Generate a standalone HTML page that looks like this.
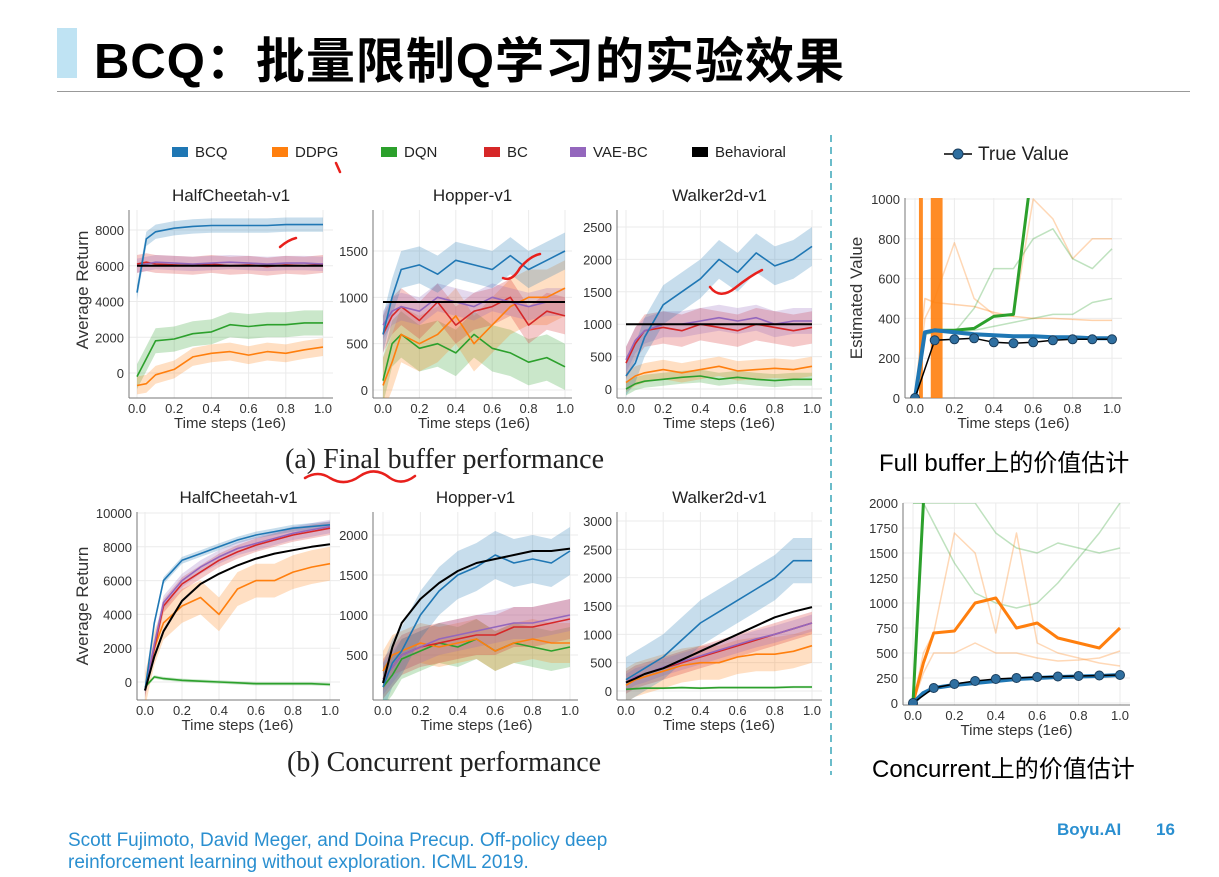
<!DOCTYPE html>
<html><head><meta charset="utf-8">
<style>
body{margin:0;background:#fff;}
#wrap{position:relative;width:1219px;height:877px;overflow:hidden;background:#fff;font-family:"Liberation Sans","Noto Sans CJK SC",sans-serif;}
.abs{position:absolute;white-space:nowrap;}
</style></head>
<body>
<div id="wrap">
<div class="abs" style="left:57px;top:28px;width:20px;height:50px;background:#bfe3f3"></div>
<div class="abs" style="left:94px;top:22px;font-size:49px;font-weight:bold;color:#000;letter-spacing:1px;font-family:'Liberation Sans','Noto Sans CJK SC',sans-serif">BCQ：批量限制Q学习的实验效果</div>
<div class="abs" style="left:57px;top:91px;width:1133px;height:1px;background:#999"></div>
<div class="abs" style="left:68px;top:830px;font-size:19px;line-height:22px;color:#2a8fd0">Scott Fujimoto, David Meger, and Doina Precup. Off-policy deep<br>reinforcement learning without exploration. ICML 2019.</div>
<div class="abs" style="left:1057px;top:820px;font-size:17px;font-weight:bold;color:#2a8fd0">Boyu.AI</div>
<div class="abs" style="left:1156px;top:820px;font-size:17px;font-weight:bold;color:#2a8fd0">16</div>
<div class="abs" style="left:285px;top:444px;font-size:28px;font-family:'Liberation Serif',serif;color:#222">(a) Final buffer performance</div>
<div class="abs" style="left:287px;top:747px;font-size:28px;font-family:'Liberation Serif',serif;color:#222">(b) Concurrent performance</div>
<div class="abs" style="left:879px;top:443px;font-size:24px;color:#000">Full buffer上的价值估计</div>
<div class="abs" style="left:872px;top:749px;font-size:24px;color:#000">Concurrent上的价值估计</div>
<svg id="chart" width="1219" height="877" style="position:absolute;left:0;top:0" xmlns="http://www.w3.org/2000/svg"></svg>
</div>
<script>
const xs=[0,0.05,0.1,0.2,0.3,0.4,0.5,0.6,0.7,0.8,0.9,1.0];
const seriesNames=['BCQ','DDPG','DQN','BC','VAE-BC','Behavioral'];
const seriesColors=['#1f77b4','#ff7f0e','#2ca02c','#d62728','#9467bd','#000000'];
// Final buffer
const hc1={BCQ:[4500,7500,7900,8100,8200,8250,8250,8250,8250,8300,8300,8300],DDPG:[-700,-600,-100,200,900,1100,1200,1000,1200,1100,1300,1450],DQN:[-200,800,1800,1900,2200,2300,2700,2600,2700,2700,2800,2800],BC:[6100,6200,6100,6050,6000,6100,6000,6050,5950,6050,6000,6100],'VAE-BC':[6000,6100,6200,6150,6100,6150,6200,6150,6100,6150,6150,6100],Behavioral:[6000,6000,6000,6000,6000,6000,6000,6000,6000,6000,6000,6000]};
const hc1Band=[400,500,700,500,400,0];
const hop1={BCQ:[600,1000,1300,1350,1250,1400,1350,1300,1450,1300,1400,1500],DDPG:[50,300,600,500,600,800,500,700,900,1000,1000,1100],DQN:[100,500,600,450,500,400,600,450,400,300,350,250],BC:[600,800,900,750,950,700,850,900,1000,700,850,800],'VAE-BC':[700,850,900,850,1000,950,900,1000,950,900,950,950],Behavioral:[950,950,950,950,950,950,950,950,950,950,950,950]};
const hop1Band=[200,300,250,200,150,0];
const wk1={BCQ:[200,400,800,1300,1500,1700,2000,1800,2100,1900,2000,2200],DDPG:[100,200,250,300,250,300,350,280,300,320,300,350],DQN:[0,80,120,150,180,200,150,180,150,130,150,150],BC:[400,700,900,950,900,1000,950,900,1000,950,900,950],'VAE-BC':[450,750,900,1000,1000,1050,1100,1050,1100,1000,1050,1050],Behavioral:[1000,1000,1000,1000,1000,1000,1000,1000,1000,1000,1000,1000]};
const wk1Band=[300,150,100,250,200,0];
// Concurrent
const hc2={BCQ:[-500,3500,6000,7200,7600,8000,8400,8700,8900,9100,9200,9300],DDPG:[-500,2000,3500,4500,5000,4000,5500,6000,6000,6500,6800,7000],DQN:[-300,300,200,100,50,0,-50,-100,-100,-100,-100,-150],BC:[-500,2000,4500,5800,6500,7200,7700,8100,8400,8700,8900,9100],'VAE-BC':[-500,2200,4700,6000,6800,7400,7900,8200,8500,8800,9000,9200],Behavioral:[-500,1500,3000,4800,5800,6400,6900,7300,7600,7800,8000,8150]};
const hc2Band=[200,1000,100,400,400,0];
const hop2={BCQ:[100,400,550,1000,1300,1500,1600,1750,1650,1700,1650,1800],DDPG:[300,500,550,650,600,650,700,550,650,700,650,650],DQN:[100,250,450,550,650,600,700,550,650,600,550,600],BC:[200,350,500,600,650,700,750,750,850,850,900,950],'VAE-BC':[200,350,500,600,700,750,800,850,900,900,950,1000],Behavioral:[150,600,900,1200,1400,1550,1650,1700,1750,1800,1800,1830]};
const hop2Band=[300,250,250,250,200,0];
const wk2={BCQ:[200,300,400,600,900,1200,1400,1600,1800,2000,2300,2300],DDPG:[100,200,250,350,450,500,500,600,650,650,700,800],DQN:[30,40,50,50,60,50,60,60,60,60,70,70],BC:[150,250,300,400,500,600,700,800,900,1000,1100,1200],'VAE-BC':[150,250,300,420,520,620,720,820,920,1000,1100,1200],Behavioral:[150,220,300,400,550,700,850,1000,1150,1300,1400,1480]};
const wk2Band=[400,300,20,200,150,0];
// Value estimates
const tvX=[0,0.1,0.2,0.3,0.4,0.5,0.6,0.7,0.8,0.9,1.0];
const tv1=[0,290,295,300,280,275,280,290,295,295,295];
const est1BCQ=[0,330,340,330,320,315,310,310,305,305,300,300];
const est1DQN=[0,330,340,340,350,410,420,1200,2000,2000,2000,2000];
const est1FaintOrange=[0,500,480,470,460,430,410,400,400,395,390,390];
const est1FaintOrange2=[0,400,500,780,500,420,410,1000,900,700,800,800];
const est1FaintGreen=[0,320,330,330,450,650,650,800,850,700,650,750];
const est1FaintGreen2=[0,320,330,330,340,360,380,400,420,420,480,500];
const tv2=[0,150,190,220,240,250,260,265,270,275,280];
const est2BCQ=[0,100,150,180,200,220,240,250,260,265,270,280];
const est2DDPG=[0,400,700,720,1000,1050,750,800,650,600,550,750];
const est2DQN=[0,2000,2400,2400,2400,2400,2400,2400,2400,2400,2400,2400];
const est2FaintGreen=[2000,2000,1800,1400,1100,1000,950,1000,1200,1450,1700,2000];
const est2FaintGreen2=[2000,2000,2000,2000,2000,1700,1550,1500,1600,1550,1500,1550];
const est2FaintOrange=[0,500,700,1700,1500,700,1700,600,500,450,400,370];
const est2FaintOrange2=[0,300,500,500,600,500,500,450,420,430,450,520];
const tickVals={hc1:[0,2000,4000,6000,8000],hop1:[0,500,1000,1500],wk1:[0,500,1000,1500,2000,2500],hc2:[0,2000,4000,6000,8000,10000],hop2:[500,1000,1500,2000],wk2:[0,500,1000,1500,2000,2500,3000],v1:[0,200,400,600,800,1000],v2:[0,250,500,750,1000,1250,1500,1750,2000]};
const xTicks=[0,0.2,0.4,0.6,0.8,1.0];

const svg=document.getElementById('chart');
const NS='http://www.w3.org/2000/svg';
function mk(tag,attrs,parent){const e=document.createElementNS(NS,tag);for(const k in attrs)e.setAttribute(k,attrs[k]);(parent||svg).appendChild(e);return e;}
let clipId=0;
function panel(cfg){
  const g=mk('g',{});
  
  
  const [l,t,r,b]=cfg.box;
  const sx=v=>cfg.x0+(cfg.x1-cfg.x0)*v;
  const sy=v=>cfg.ya[1]+(v-cfg.ya[0])*(cfg.yb[1]-cfg.ya[1])/(cfg.yb[0]-cfg.ya[0]);
  const id='c'+(clipId++);
  const cp=mk('clipPath',{id:id},g);mk('rect',{x:l,y:t,width:r-l,height:b-t},cp);
  xTicks.forEach(v=>{mk('line',{x1:sx(v),x2:sx(v),y1:t,y2:b,stroke:'#ebebeb','stroke-width':1},g);
    const tx=mk('text',{x:sx(v),y:b+15,'font-size':13,'text-anchor':'middle',fill:'#333'},g);tx.textContent=v.toFixed(1);
    
    });
  cfg.ticks.forEach(v=>{mk('line',{x1:l,x2:r,y1:sy(v),y2:sy(v),stroke:'#ebebeb','stroke-width':1},g);
    const tx=mk('text',{x:l-5,y:sy(v)+5,'font-size':13,'text-anchor':'end',fill:'#333'},g);tx.textContent=v;
    
    });
  mk('line',{x1:l,x2:l,y1:t,y2:b,stroke:'#777','stroke-width':1},g);
  mk('line',{x1:l,x2:r,y1:b,y2:b,stroke:'#777','stroke-width':1},g);
  const xt=mk('text',{x:(cfg.x0+cfg.x1)/2,y:b+30,'font-size':15,'text-anchor':'middle',fill:'#333'},g);xt.textContent='Time steps (1e6)';
  
  
  if(cfg.title){const tt=mk('text',{x:(l+r)/2,y:t-9,'font-size':17,'text-anchor':'middle',fill:'#222'},g);tt.textContent=cfg.title;
    
    }
  const pg=mk('g',{'clip-path':'url(#'+id+')'},g);
  return {g:pg,sx,sy};
}
function line(p,X,Y,color,w,op,name){
  const d=X.map((x,i)=>(i?'L':'M')+p.sx(x).toFixed(1)+','+p.sy(Y[i]).toFixed(1)).join(' ');
  const e=mk('path',{d:d,fill:'none',stroke:color,'stroke-width':w,'stroke-opacity':op,'stroke-linejoin':'round'},p.g);
  
  
  return e;
}
function band(p,X,Y,hw,color,name){
  const up=X.map((x,i)=>p.sx(x).toFixed(1)+','+p.sy(Y[i]+hw).toFixed(1));
  const dn=X.map((x,i)=>p.sx(x).toFixed(1)+','+p.sy(Y[i]-hw).toFixed(1)).reverse();
  const e=mk('polygon',{points:up.concat(dn).join(' '),fill:color,'fill-opacity':0.25},p.g);
  
  
}
function perfPanel(cfg,data,bands){
  const p=panel(cfg);
  const order=[2,1,3,4,0,5];
  order.forEach(i=>{const n=seriesNames[i];if(bands[i]>0)band(p,xs,data[n],bands[i],seriesColors[i],'band-'+n.toLowerCase());});
  order.forEach(i=>{const n=seriesNames[i];line(p,xs,data[n],seriesColors[i],n==='Behavioral'?2:1.6,1,'line-'+n.toLowerCase());});
}
perfPanel({name:'halfcheetah-final',title:'HalfCheetah-v1',box:[129,210,333,398],x0:137,x1:323,ya:[0,373],yb:[8000,230],ticks:tickVals.hc1},hc1,hc1Band);
perfPanel({name:'hopper-final',title:'Hopper-v1',box:[373,210,572,398],x0:383,x1:565,ya:[0,390],yb:[1500,251],ticks:tickVals.hop1},hop1,hop1Band);
perfPanel({name:'walker-final',title:'Walker2d-v1',box:[617,210,822,398],x0:626,x1:812,ya:[0,389],yb:[2500,227],ticks:tickVals.wk1},wk1,wk1Band);
perfPanel({name:'halfcheetah-concurrent',title:'HalfCheetah-v1',box:[137,512,340,700],x0:145,x1:330,ya:[0,682],yb:[10000,513],ticks:tickVals.hc2},hc2,hc2Band);
perfPanel({name:'hopper-concurrent',title:'Hopper-v1',box:[373,512,578,700],x0:383,x1:570,ya:[500,655],yb:[2000,535],ticks:tickVals.hop2},hop2,hop2Band);
perfPanel({name:'walker-concurrent',title:'Walker2d-v1',box:[617,512,822,700],x0:626,x1:812,ya:[0,691],yb:[3000,521],ticks:tickVals.wk2},wk2,wk2Band);

function markers(p,X,Y){
  line(p,X,Y,'#000',1.5,1,'line-true-value');
  X.forEach((x,i)=>{const c=mk('circle',{cx:p.sx(x),cy:p.sy(Y[i]),r:4.5,fill:'#2f6fa0',stroke:'#1a3d5c','stroke-width':1},p.g);
    
    });
}
const v1=panel({name:'value-full-buffer',box:[905,198,1122,398],x0:915,x1:1112,ya:[0,398],yb:[1000,199],ticks:tickVals.v1});
line(v1,xs,est1FaintOrange,'#ff7f0e',1.5,0.35,'faint-ddpg');
line(v1,xs,est1FaintOrange2,'#ff7f0e',1.5,0.3,'faint-ddpg');
line(v1,xs,est1FaintGreen,'#2ca02c',1.5,0.3,'faint-dqn');
line(v1,xs,est1FaintGreen2,'#2ca02c',1.5,0.3,'faint-dqn');
[[0.02,0.04],[0.08,0.14]].forEach(r=>{const e=mk('rect',{x:v1.sx(r[0]),y:198,width:v1.sx(r[1])-v1.sx(r[0]),height:200,fill:'#ff7f0e','fill-opacity':0.9},v1.g);
  
  });
line(v1,xs,est1DQN,'#2ca02c',3,1,'line-dqn-estimate');
line(v1,xs,est1BCQ,'#1f77b4',4,1,'line-bcq-estimate');
markers(v1,tvX,tv1);
const v2=panel({name:'value-concurrent',box:[903,503,1130,705],x0:913,x1:1120,ya:[0,703],yb:[2000,503],ticks:tickVals.v2});
line(v2,xs,est2FaintGreen,'#2ca02c',1.5,0.3,'faint-dqn');
line(v2,xs,est2FaintGreen2,'#2ca02c',1.5,0.3,'faint-dqn');
line(v2,xs,est2FaintOrange,'#ff7f0e',1.5,0.3,'faint-ddpg');
line(v2,xs,est2FaintOrange2,'#ff7f0e',1.5,0.3,'faint-ddpg');
line(v2,xs,est2DDPG,'#ff7f0e',3,1,'line-ddpg-estimate');
line(v2,xs,est2DQN,'#2ca02c',3,1,'line-dqn-estimate');
line(v2,xs,est2BCQ,'#1f77b4',4,1,'line-bcq-estimate');
markers(v2,tvX,tv2);

function lbl(txt,x,y,size,rot,name){const a={x:x,y:y,'font-size':size,'text-anchor':'middle',fill:'#333'};if(rot)a.transform='rotate(-90 '+x+' '+y+')';const e=mk('text',a);e.textContent=txt;
  
  }
lbl('Average Return',88,290,17,true,'y-axis-title');
lbl('Average Return',88,606,17,true,'y-axis-title');
lbl('Estimated Value',862,298,17,true,'y-axis-title');
// legend
const legX=[172,272,381,484,570,692];
seriesNames.forEach((n,i)=>{const r=mk('rect',{x:legX[i],y:147,width:16,height:10,fill:seriesColors[i]});
  
  
  const t=mk('text',{x:legX[i]+23,y:157,'font-size':15,fill:'#222'});t.textContent=n;
  
  });
const tl=mk('line',{x1:944,x2:972,y1:154,y2:154,stroke:'#000','stroke-width':1.5});


const tc=mk('circle',{cx:958,cy:154,r:5,fill:'#2f6fa0',stroke:'#1a3d5c'});


const tt=mk('text',{x:978,y:160,'font-size':19,fill:'#222'});tt.textContent='True Value';


// divider
const dv=mk('line',{x1:831,x2:831,y1:135,y2:775,stroke:'#3aa6b9','stroke-width':1.5,'stroke-dasharray':'7,5'});


// hand-drawn annotations
['M336,163 L340,172','M280,247 Q288,240 296,238','M503,278 Q512,282 520,268 Q530,256 540,254','M710,287 Q720,300 735,288 Q750,276 762,270','M305,478 Q318,470 330,478 Q345,487 360,476 Q375,466 390,478 Q402,486 415,476'].forEach(d=>{
  const e=mk('path',{d:d,fill:'none',stroke:'#e8201c','stroke-width':2.5,'stroke-linecap':'round'});
  
  });
</script>
</body></html>
